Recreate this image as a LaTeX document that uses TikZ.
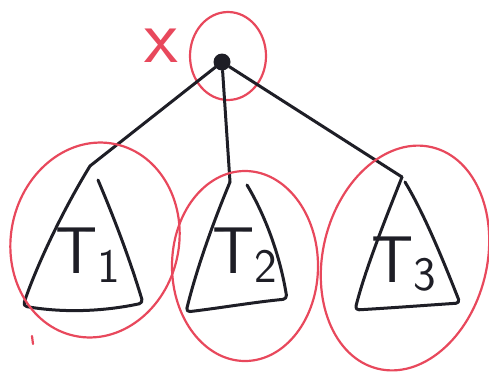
\documentclass[tikz,border=0pt]{standalone}
\usetikzlibrary{shapes.geometric}
\definecolor{pen}{RGB}{30,30,38}
\definecolor{redpen}{RGB}{232,72,92}
\begin{document}
\begin{tikzpicture}[x=1pt,y=-1pt,
  blk/.style={draw=pen,line width=3pt,line cap=round,line join=round},
  redc/.style={draw=redpen,line width=2.2pt},
  lbl/.style={text=pen,font=\sffamily\fontsize{66}{66}\selectfont,inner sep=0pt},
  tri/.style={blk,rounded corners=4pt}]
\useasboundingbox (0,0) rectangle (489,378);
% root
\node[circle,fill=pen,minimum size=17pt,inner sep=0pt] (root) at (222,62) {};
\node[ellipse,redc,minimum width=76pt,minimum height=88pt] (rc) at (228,56) {};
\node[text=redpen,font=\sffamily\fontsize{78}{78}\selectfont,inner sep=0pt] (xl) at (161,46) {x};
% subtree apexes
\coordinate (a1) at (90,166);
\coordinate (a2) at (230,182);
\coordinate (a3) at (402,177);
% edges
\draw[blk] (root) -- (a1);
\draw[blk] (root) -- (a2);
\draw[blk] (root) -- (a3);
% triangles
\draw[tri] (a1) .. controls (60,215) and (35,270) .. (23,306) .. controls (70,314) and (110,310) .. (143,303) .. controls (130,260) and (115,220) .. (98,180);
\draw[tri] (a2) .. controls (210,230) and (195,275) .. (186,312) .. controls (220,308) and (255,302) .. (287,299) .. controls (280,255) and (265,215) .. (247,185);
\draw[tri] (a3) .. controls (385,220) and (365,270) .. (355,310) .. controls (390,308) and (430,305) .. (460,303) .. controls (445,265) and (425,215) .. (405,182);
% labels
\node[lbl] (t1) at (88,255) {T\raisebox{-0.3ex}{\fontsize{48}{48}\selectfont 1}};
\node[lbl] (t2) at (245,255) {T\raisebox{-0.3ex}{\fontsize{48}{48}\selectfont 2}};
\node[lbl] (t3) at (404,264) {T\raisebox{-0.3ex}{\fontsize{48}{48}\selectfont 3}};
% red circles
\node[ellipse,redc,rotate=-12,minimum width=168pt,minimum height=196pt] (c1) at (95,240) {};
\node[ellipse,redc,minimum width=146pt,minimum height=190pt] (c2) at (245,266) {};
\node[ellipse,redc,rotate=-14,minimum width=164pt,minimum height=228pt] (c3) at (405,258) {};
\draw[redc,line cap=round] (32,336) -- (33,344);
\end{tikzpicture}
\end{document}
